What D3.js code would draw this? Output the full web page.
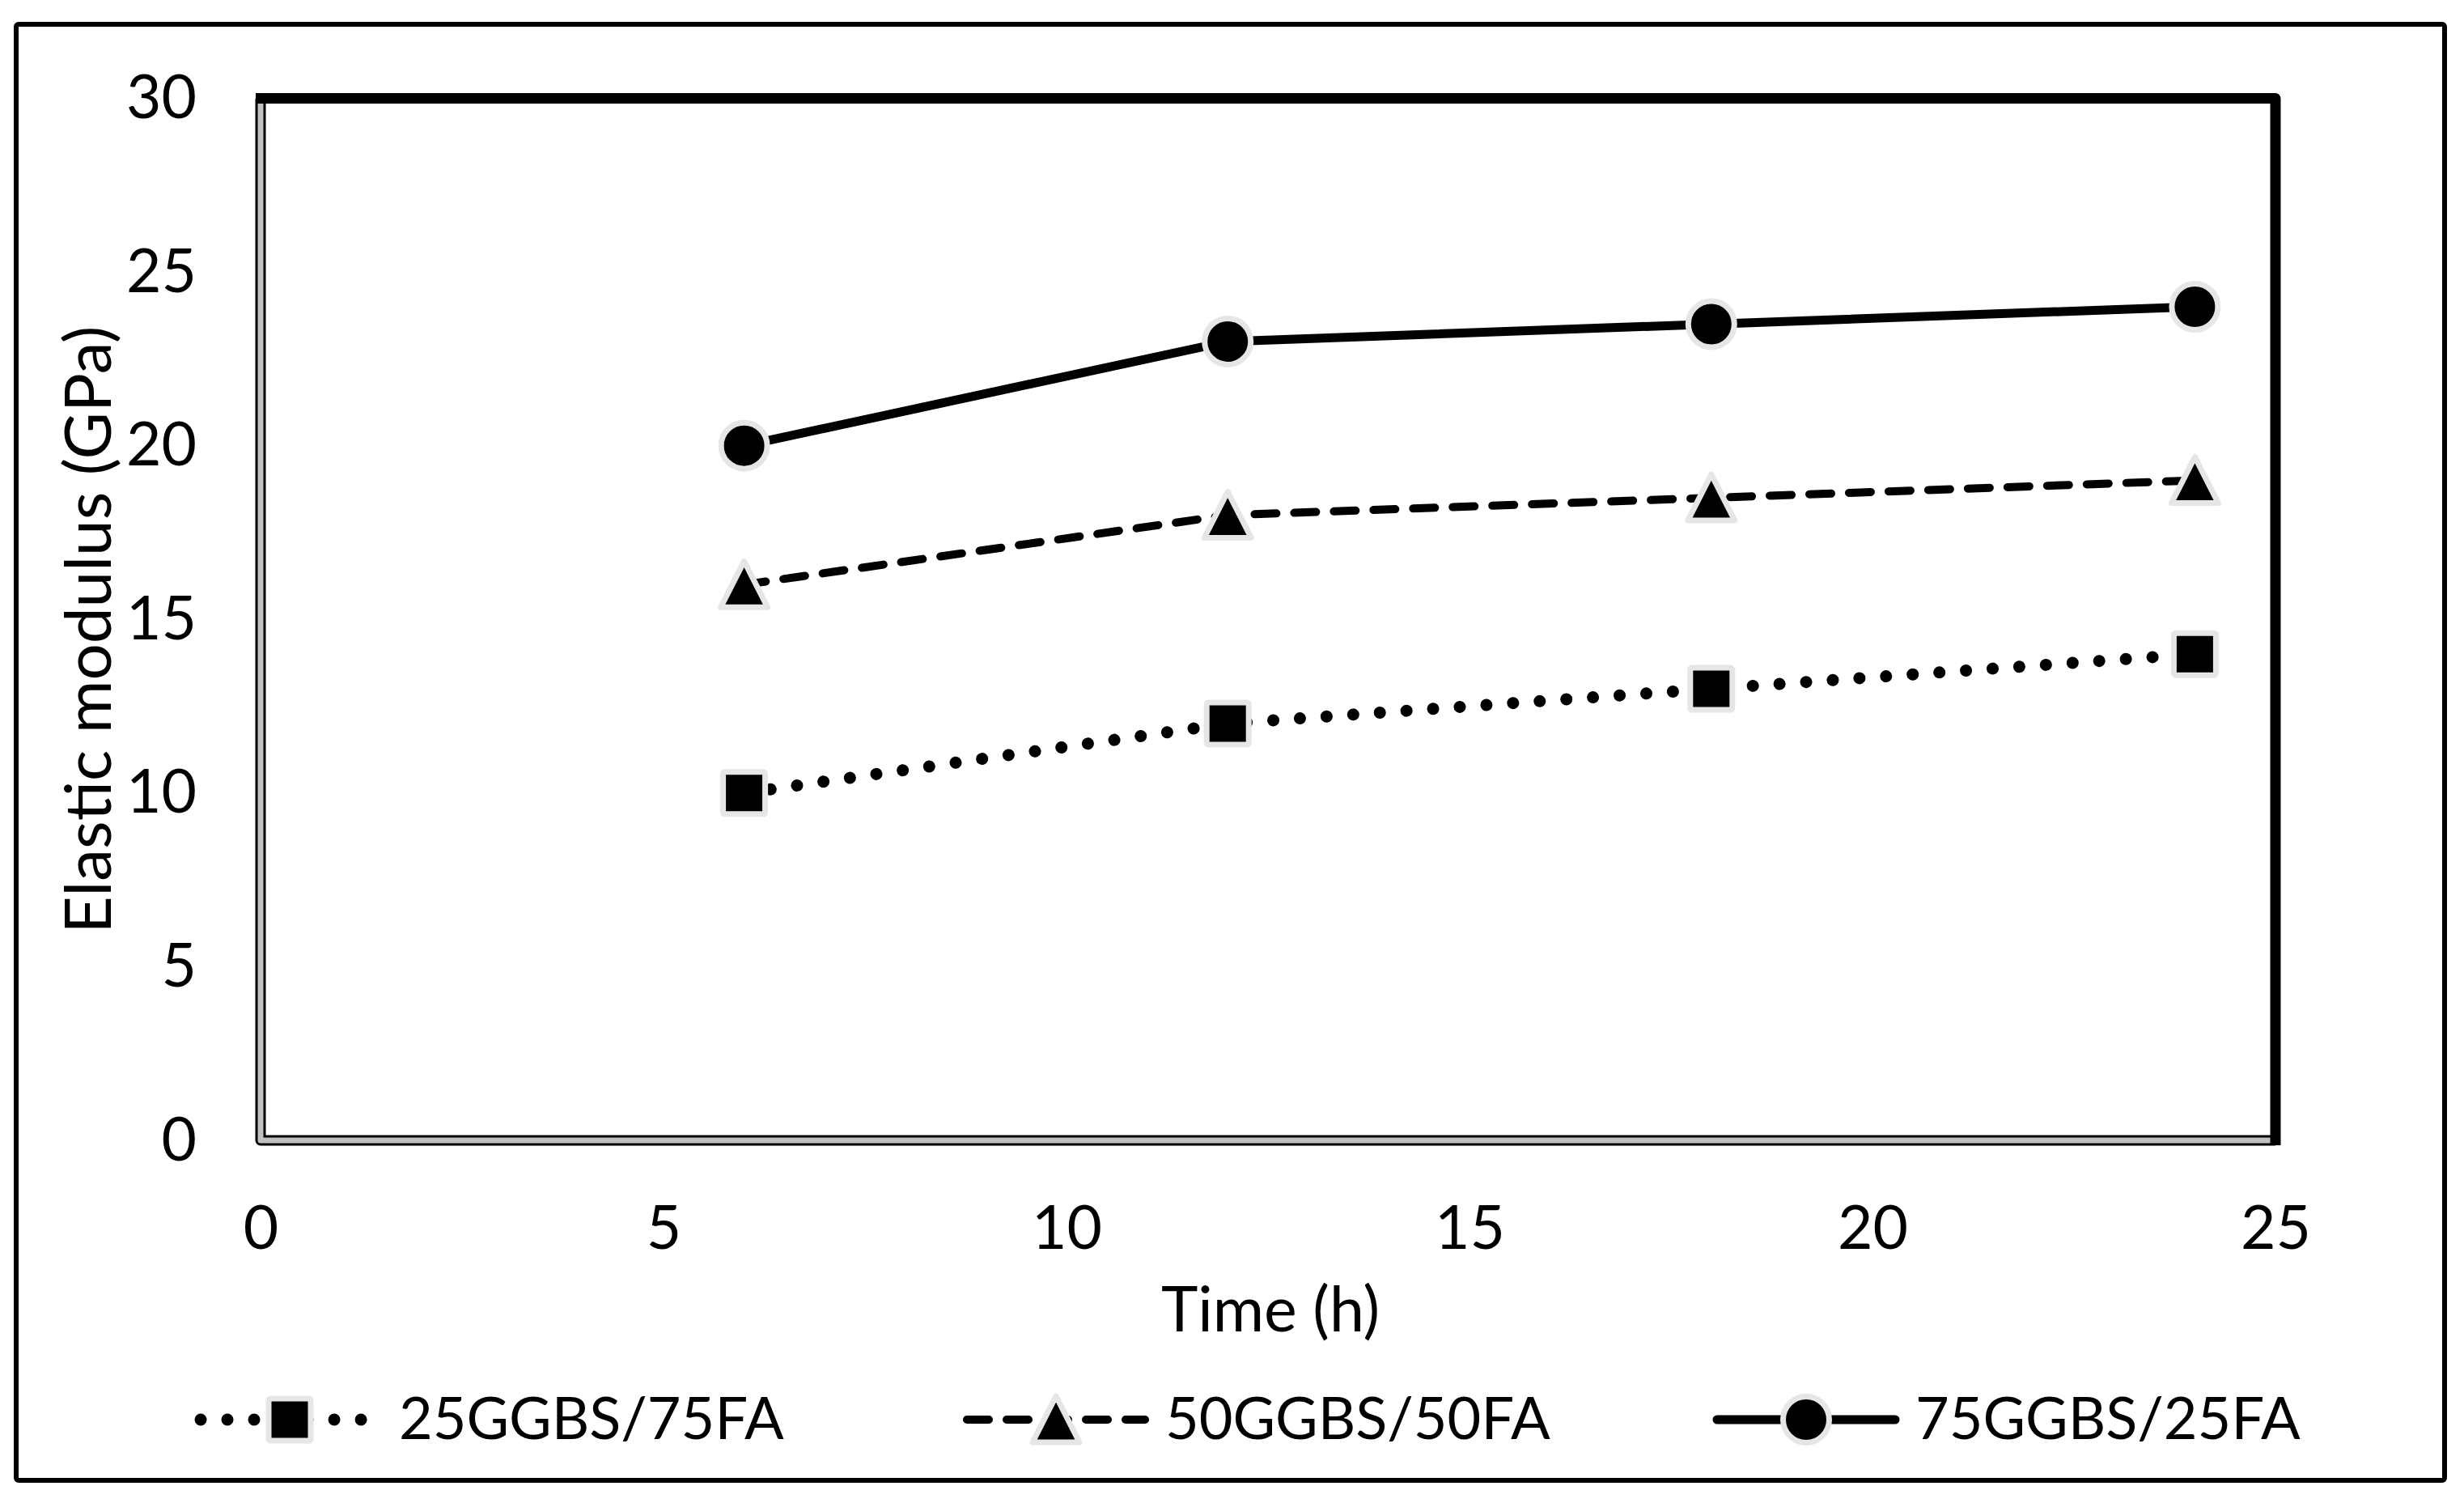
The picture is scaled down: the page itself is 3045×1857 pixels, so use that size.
<!DOCTYPE html>
<html>
<head>
<meta charset="utf-8">
<script src="https://cdn.jsdelivr.net/npm/d3@7"></script>
<style>
  body { margin: 0; background: #fff; }
  text { font-family: Lato, "Open Sans", sans-serif; fill: #000; }
</style>
</head>
<body>
<div id="graph"></div>
<script>
// data
var times = [6, 12, 18, 24];
var mix25 = [10, 12, 13, 14];
var mix50 = [16, 18, 18.5, 19];
var mix75 = [20, 23, 23.5, 24];
var seriesNames = ["25GGBS/75FA", "50GGBS/50FA", "75GGBS/25FA"];
var xTicks = [0, 5, 10, 15, 20, 25];
var yTicks = [0, 5, 10, 15, 20, 25, 30];

var svgWidth = 3045, svgHeight = 1857;

var svg = d3.select("#graph")
  .append("svg")
  .attr("width", svgWidth)
  .attr("height", svgHeight);

// outer frame
svg.append("rect")
  .attr("x", 20).attr("y", 30)
  .attr("width", 3001).attr("height", 1799)
  .attr("rx", 3)
  .attr("fill", "none")
  .attr("stroke", "#000")
  .attr("stroke-width", 6);

var x = d3.scaleLinear().domain([0, 25]).range([322, 2812]);
var y = d3.scaleLinear().domain([0, 30]).range([1409, 121.5]);

// plot border: left + bottom grey with black edges, top + right black
var lb = `M${x(0)},${y(30)} L${x(0)},${y(0)} L${x(25)},${y(0)}`;
svg.append("path").attr("d", lb).attr("fill", "none")
  .attr("stroke", "#000").attr("stroke-width", 13).attr("stroke-linejoin", "round");
svg.append("path").attr("d", lb).attr("fill", "none")
  .attr("stroke", "#c0c0c0").attr("stroke-width", 7).attr("stroke-linejoin", "round");
svg.append("path")
  .attr("d", `M${x(0) - 6},${y(30)} L${x(25)},${y(30)} L${x(25)},${y(0) + 6}`)
  .attr("fill", "none")
  .attr("stroke", "#000").attr("stroke-width", 13).attr("stroke-linejoin", "round");

// axes (labels only)
var xAxis = svg.append("g")
  .attr("transform", `translate(0, ${y(0)})`)
  .call(d3.axisBottom(x).tickValues(xTicks).tickSize(0).tickPadding(81));
xAxis.select(".domain").remove();
xAxis.selectAll("text").style("font-size", "75px").style("font-family", "Lato");

var yAxis = svg.append("g")
  .attr("transform", `translate(${x(0)}, 0)`)
  .call(d3.axisLeft(y).tickValues(yTicks).tickSize(0).tickPadding(79));
yAxis.select(".domain").remove();
yAxis.selectAll("text").style("font-size", "75px").style("font-family", "Lato");

svg.append("text")
  .attr("x", 1570).attr("y", 1645)
  .attr("text-anchor", "middle")
  .style("font-size", "77px")
  .text("Time (h)");

svg.append("text")
  .attr("transform", "translate(137, 778) rotate(-90)")
  .attr("text-anchor", "middle")
  .style("font-size", "80px")
  .text("Elastic modulus (GPa)");

// series
var lineStyles = [
  {width: 15, dash: "0.01 33"},
  {width: 10, dash: "27 22"},
  {width: 11, dash: null}
];
var seriesValues = [mix25, mix50, mix75];
var markerShapes = ["square", "triangle", "circle"];

function drawMarker(g, shape, cx, cy) {
  if (shape == "square") {
    g.append("rect")
      .attr("x", cx - 26).attr("y", cy - 26)
      .attr("width", 52).attr("height", 52)
      .attr("rx", 2)
      .attr("fill", "#000").attr("stroke", "#e6e6e6").attr("stroke-width", 7);
  } else if (shape == "triangle") {
    g.append("path")
      .attr("d", `M${cx},${cy - 29} L${cx + 29},${cy + 28} L${cx - 29},${cy + 28} Z`)
      .attr("fill", "#000").attr("stroke", "#e6e6e6").attr("stroke-width", 7)
      .attr("stroke-linejoin", "round");
  } else {
    g.append("circle")
      .attr("cx", cx).attr("cy", cy).attr("r", 28.5)
      .attr("fill", "#000").attr("stroke", "#e6e6e6").attr("stroke-width", 7);
  }
}

var line = d3.line()
  .x(function(d) { return x(d[0]); })
  .y(function(d) { return y(d[1]); });

seriesValues.forEach(function(vals, i) {
  var pts = times.map(function(t, j) { return [t, vals[j]]; });
  var g = svg.append("g");
  g.append("path")
    .attr("d", line(pts))
    .attr("fill", "none")
    .attr("stroke", "#000")
    .attr("stroke-width", lineStyles[i].width)
    .attr("stroke-linecap", "round")
    .attr("stroke-dasharray", lineStyles[i].dash);
  pts.forEach(function(p) {
    drawMarker(g, markerShapes[i], x(p[0]), y(p[1]));
  });
});

// legend
var legendY = 1754;
var legendStarts = [248, 1195, 2122];
var legendLen = 220;
seriesNames.forEach(function(name, i) {
  var g = svg.append("g");
  var x0 = legendStarts[i];
  g.append("line")
    .attr("x1", x0).attr("x2", x0 + legendLen)
    .attr("y1", legendY).attr("y2", legendY)
    .attr("stroke", "#000")
    .attr("stroke-width", lineStyles[i].width)
    .attr("stroke-linecap", "round")
    .attr("stroke-dasharray", lineStyles[i].dash);
  drawMarker(g, markerShapes[i], x0 + legendLen / 2, legendY);
  g.append("text")
    .attr("x", x0 + legendLen + 25)
    .attr("y", 1778)
    .style("font-size", "72px")
    .text(name);
});
</script>
</body>
</html>
